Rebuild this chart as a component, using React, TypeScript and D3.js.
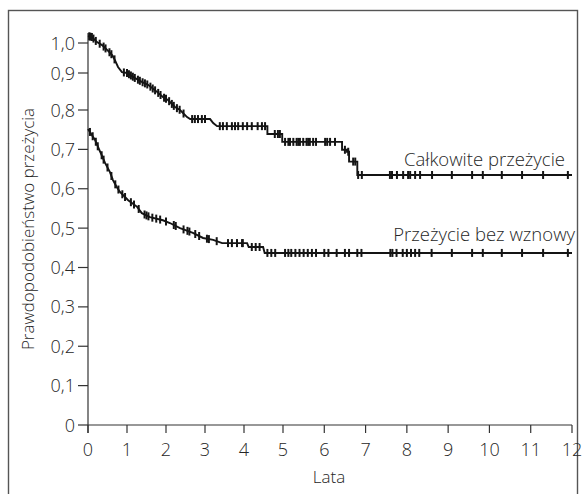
import React from "react";
import * as d3 from "d3";

// Overall survival (Całkowite przeżycie): vertices of the curve (years, probability)
const osTimes = [0, 0.1, 0.23, 0.36, 0.49, 0.62, 0.69, 0.77, 0.87, 1.0, 1.21, 1.38, 1.54, 1.77, 1.92, 2.05, 2.23, 2.36, 2.54, 2.62, 3.13, 3.21, 3.31, 4.6, 4.6, 4.98, 4.98, 6.43, 6.43, 6.55, 6.55, 6.6, 6.6, 6.8, 6.8, 12];
const osSurv = [1.023, 1.02, 1.003, 0.993, 0.977, 0.96, 0.943, 0.92, 0.903, 0.9, 0.886, 0.876, 0.868, 0.849, 0.835, 0.827, 0.808, 0.8, 0.782, 0.777, 0.777, 0.767, 0.759, 0.759, 0.739, 0.739, 0.719, 0.719, 0.699, 0.699, 0.694, 0.694, 0.669, 0.669, 0.635, 0.635];
const osCensor = [0.03, 0.06, 0.1, 0.14, 0.2, 0.3, 0.4, 0.45, 0.55, 0.6, 0.68, 0.92, 1.0, 1.05, 1.1, 1.15, 1.2, 1.28, 1.33, 1.4, 1.46, 1.52, 1.6, 1.66, 1.72, 1.8, 1.86, 1.95, 2.0, 2.08, 2.15, 2.2, 2.28, 2.35, 2.45, 2.67, 2.74, 2.82, 2.92, 3.0, 3.38, 3.46, 3.56, 3.69, 3.77, 3.85, 3.97, 4.08, 4.2, 4.35, 4.46, 4.54, 4.79, 4.87, 4.92, 5.05, 5.13, 5.17, 5.25, 5.33, 5.37, 5.41, 5.49, 5.57, 5.61, 5.65, 5.73, 5.8, 6.02, 6.07, 6.14, 6.26, 6.5, 6.58, 6.7, 6.75, 6.82, 6.91, 7.59, 7.64, 7.76, 7.91, 8.03, 8.08, 8.2, 8.32, 8.61, 9.09, 9.58, 9.84, 10.3, 10.79, 11.3, 11.9];

// Relapse-free survival (Przeżycie bez wznowy)
const rfsTimes = [0, 0.18, 0.31, 0.44, 0.56, 0.64, 0.74, 0.82, 1.03, 1.26, 1.38, 1.59, 1.92, 2.1, 2.36, 2.69, 2.95, 3.21, 3.44, 4.08, 4.12, 4.49, 4.53, 12];
const rfsSurv = [0.752, 0.724, 0.694, 0.665, 0.643, 0.622, 0.604, 0.592, 0.571, 0.554, 0.538, 0.528, 0.52, 0.513, 0.5, 0.488, 0.475, 0.47, 0.462, 0.462, 0.452, 0.452, 0.437, 0.437];
const rfsCensor = [0.05, 0.12, 0.2, 0.25, 0.35, 0.4, 0.5, 0.6, 0.7, 0.78, 0.88, 0.95, 1.1, 1.18, 1.3, 1.45, 1.5, 1.55, 1.65, 1.75, 1.85, 2.0, 2.2, 2.25, 2.45, 2.55, 2.6, 2.75, 2.85, 3.05, 3.1, 3.3, 3.59, 3.69, 3.82, 3.95, 3.97, 4.2, 4.3, 4.4, 4.6, 4.7, 4.8, 5.05, 5.13, 5.2, 5.3, 5.4, 5.5, 5.6, 5.7, 5.8, 6.0, 6.1, 6.3, 6.5, 6.6, 6.8, 6.9, 7.6, 7.65, 7.75, 7.9, 8.0, 8.1, 8.2, 8.3, 8.6, 9.09, 9.58, 9.84, 10.3, 10.79, 11.3, 11.9];

const xTicks = [0, 1, 2, 3, 4, 5, 6, 7, 8, 9, 10, 11, 12];
const yTicks = [0, 0.1, 0.2, 0.3, 0.4, 0.5, 0.6, 0.7, 0.8, 0.9, 1.0];
const yTickLabels = ["0", "0,1", "0,2", "0,3", "0,4", "0,5", "0,6", "0,7", "0,8", "0,9", "1,0"];

const seriesLabels = ["Całkowite przeżycie", "Przeżycie bez wznowy"];
const xTitle = "Lata";
const yTitle = "Prawdopodobieństwo przeżycia";

const FONT = "'Open Sans', 'DejaVu Sans', sans-serif";
const TEXT = "#262626";
const INK = "#141414";

function valueAt(ts: number[], vs: number[], t: number) {
  let i = d3.bisectRight(ts, t) - 1;
  if (i < 0) i = 0;
  if (i >= ts.length - 1) return vs[vs.length - 1];
  const t0 = ts[i], t1 = ts[i + 1];
  if (t1 === t0) return vs[i + 1];
  return vs[i] + ((vs[i + 1] - vs[i]) * (t - t0)) / (t1 - t0);
}

export default function App() {
  const x = d3.scaleLinear().domain([0, 5, 12]).range([88, 283, 572]);
  const y = d3.scaleLinear().domain([0, 0.8, 0.9, 1.0]).range([425, 110, 73, 43]);

  const line = d3
    .line<[number, number]>()
    .x((d) => x(d[0]))
    .y((d) => y(d[1]));

  const osPts = osTimes.map((t, i) => [t, osSurv[i]] as [number, number]);
  const rfsPts = rfsTimes.map((t, i) => [t, rfsSurv[i]] as [number, number]);

  const marks = (ts: number[], vs: number[], cs: number[]) =>
    cs.map((c, i) => {
      const cx = x(c);
      const cy = y(valueAt(ts, vs, c));
      return <line key={i} x1={cx} x2={cx} y1={cy - 4} y2={cy + 4} stroke={INK} strokeWidth={2} />;
    });

  return (
    <svg width={583} height={494} style={{ position: "absolute", left: 0, top: 0, background: "#fff" }}>
      <rect x={8.5} y={10.5} width={569} height={500} fill="none" stroke="#555" strokeWidth={1.4} />

      {/* axes */}
      <line x1={x(0)} x2={x(0)} y1={33} y2={y(0) + 8} stroke="#333" strokeWidth={1.2} />
      <line x1={x(0)} x2={x(12)} y1={y(0)} y2={y(0)} stroke="#333" strokeWidth={1.2} />
      {yTicks.map((v, i) => (
        <g key={i}>
          <line x1={x(0) - 10} x2={x(0)} y1={y(v)} y2={y(v)} stroke="#333" strokeWidth={1.2} />
          <text x={x(0) - 13} y={y(v) + 6.5} textAnchor="end" fontFamily={FONT} fontWeight={300} fontSize={18} fill={TEXT}>
            {yTickLabels[i]}
          </text>
        </g>
      ))}
      {xTicks.map((t) => (
        <g key={t}>
          <line x1={x(t)} x2={x(t)} y1={y(0)} y2={y(0) + 8} stroke="#333" strokeWidth={1.2} />
          <text x={x(t)} y={456} textAnchor="middle" fontFamily={FONT} fontWeight={300} fontSize={18} fill={TEXT}>
            {t}
          </text>
        </g>
      ))}
      <text x={329} y={483} textAnchor="middle" fontFamily={FONT} fontWeight={300} fontSize={17} fill={TEXT}>
        {xTitle}
      </text>
      <text transform="translate(34,229) rotate(-90)" textAnchor="middle" fontFamily={FONT} fontWeight={300} fontSize={17} fill={TEXT}>
        {yTitle}
      </text>

      {/* curves */}
      <path d={line(osPts) || ""} fill="none" stroke={INK} strokeWidth={1.9} />
      <path d={line(rfsPts) || ""} fill="none" stroke={INK} strokeWidth={1.9} />
      {marks(osTimes, osSurv, osCensor)}
      {marks(rfsTimes, rfsSurv, rfsCensor)}

      <text x={565} y={166} textAnchor="end" fontFamily={FONT} fontWeight={300} fontSize={18.5} fill={TEXT}>
        {seriesLabels[0]}
      </text>
      <text x={575} y={241} textAnchor="end" fontFamily={FONT} fontWeight={300} fontSize={18.5} fill={TEXT}>
        {seriesLabels[1]}
      </text>
    </svg>
  );
}
